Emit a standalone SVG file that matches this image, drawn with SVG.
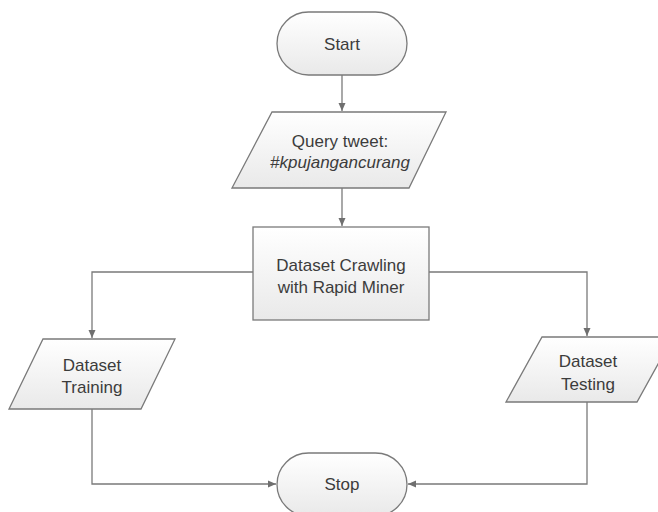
<svg xmlns="http://www.w3.org/2000/svg" width="658" height="512" viewBox="0 0 658 512">
<defs>
<linearGradient id="g" x1="0" y1="0" x2="0" y2="1">
<stop offset="0" stop-color="#ffffff"/>
<stop offset="1" stop-color="#e9e9e9"/>
</linearGradient>
<marker id="arr" markerWidth="10" markerHeight="10" refX="9" refY="5" orient="auto" markerUnits="userSpaceOnUse">
<path d="M1,1.5 L9,5 L1,8.5 Z" fill="#6f6f6f"/>
</marker>
<style>
.s{fill:url(#g);stroke:#7a7a7a;stroke-width:1.3}
.t{font-family:"Liberation Sans",Arial,sans-serif;font-size:17px;fill:#3c3c3c;text-anchor:middle}
.c{fill:none;stroke:#7a7a7a;stroke-width:1.3;marker-end:url(#arr)}
</style>
</defs>
<rect width="658" height="512" fill="#ffffff"/>
<g id="connectors">
<path class="c" d="M342,75 L342,111"/>
<path class="c" d="M342,188 L342,226"/>
<path class="c" d="M253,272 L92,272 L92,338"/>
<path class="c" d="M429,272 L587,272 L587,336"/>
<path class="c" d="M92,409 L92,484 L276,484"/>
<path class="c" d="M587,402 L587,484 L408,484"/>
</g>
<g id="start">
<rect class="s" x="277" y="12" width="130" height="63" rx="31.5"/>
<text class="t" x="342" y="50">Start</text>
</g>
<g id="query">
<polygon class="s" points="272,112 446,112 409,188 232,188"/>
<text class="t" x="340" y="147">Query tweet:</text>
<text class="t" x="340" y="168" font-style="italic">#kpujangancurang</text>
</g>
<g id="crawling">
<rect class="s" x="253" y="227" width="176" height="93"/>
<text class="t" x="341" y="271">Dataset Crawling</text>
<text class="t" x="341" y="293">with Rapid Miner</text>
</g>
<g id="training">
<polygon class="s" points="43,339 175,339 141,409 9,409"/>
<text class="t" x="92" y="371">Dataset</text>
<text class="t" x="92" y="393">Training</text>
</g>
<g id="testing">
<polygon class="s" points="542,337 673,337 637,402 506,402"/>
<text class="t" x="588" y="367">Dataset</text>
<text class="t" x="588" y="390">Testing</text>
</g>
<g id="stop">
<rect class="s" x="277" y="453" width="130" height="63" rx="31.5"/>
<text class="t" x="342" y="490">Stop</text>
</g>
</svg>
